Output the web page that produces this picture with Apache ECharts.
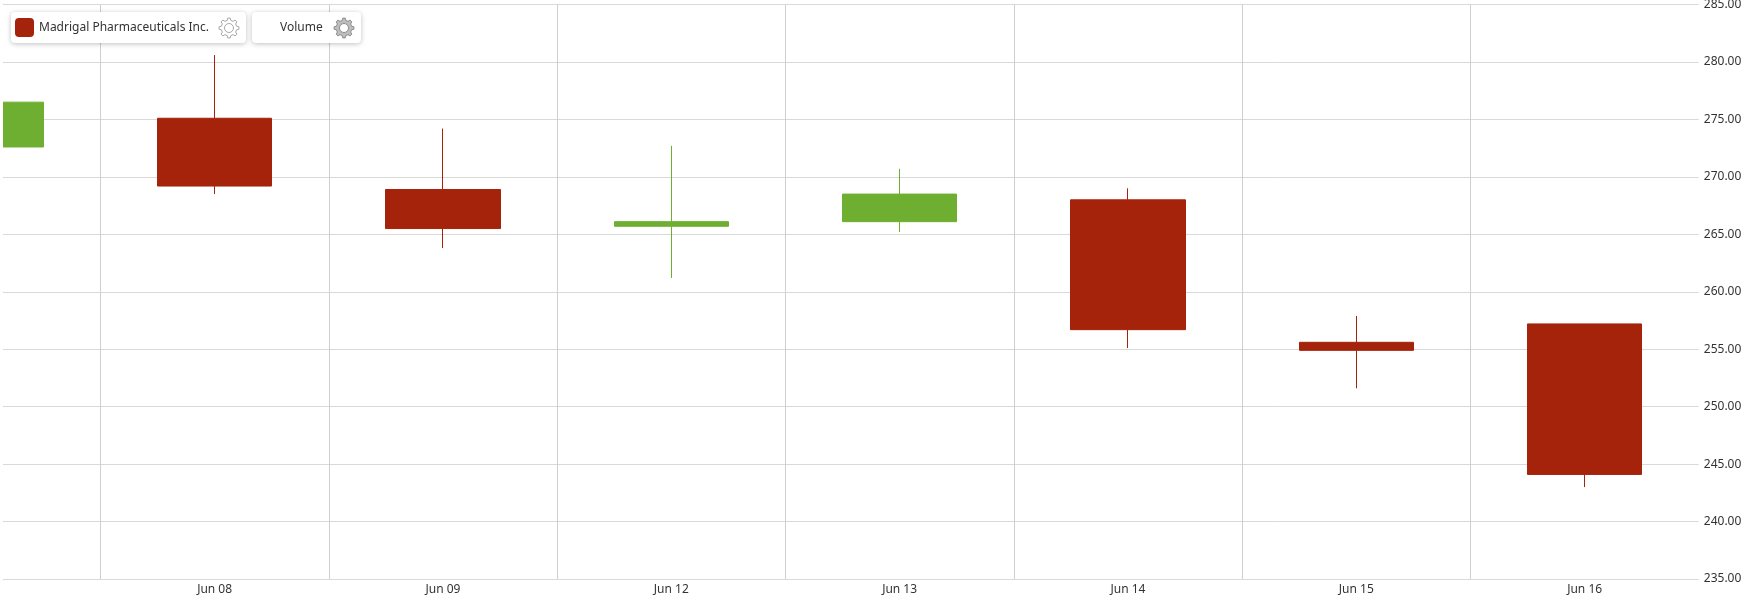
<!DOCTYPE html>
<html>
<head>
<meta charset="utf-8">
<title>Madrigal Pharmaceuticals Inc.</title>
<script src="https://cdn.jsdelivr.net/npm/echarts@6/dist/echarts.min.js"></script>
<style>
    html, body { margin: 0; padding: 0; background: #fff; }
    #chart { width: 1757px; height: 615px; }
</style>
</head>
<body>
<div id="chart"></div>
<script>
// first category is the cut off candle on the left edge, it has no label
const dates = ['', 'Jun 08', 'Jun 09', 'Jun 12', 'Jun 13', 'Jun 14', 'Jun 15', 'Jun 16'];
const open = [272.6, 275.1, 268.9, 265.7, 266.1, 268.0, 255.6, 257.2];
const close = [276.5, 269.2, 265.5, 266.1, 268.5, 256.7, 254.9, 244.1];
const low = [272.6, 268.5, 263.8, 261.2, 265.2, 255.1, 251.6, 243.0];
const high = [276.5, 280.6, 274.2, 272.7, 270.7, 269.0, 257.9, 257.2];

const seriesName = 'Madrigal Pharmaceuticals Inc.';
const volumeName = 'Volume';

const RED = '#a4230a';
const GREEN = '#6eaf31';
const FONT = '"Noto Sans", sans-serif';

const candles = dates.map((d, i) => [open[i], close[i], low[i], high[i]]);

// cog wheel outline for the legend chips
const gearPoints = (cx, cy, teeth) => {
    const points = [];
    const step = Math.PI * 2 / teeth;
    for (let i = 0; i < teeth; i++) {
        const a = i * step;
        [[a - step * 0.30, 7.8], [a - step * 0.16, 10], [a + step * 0.16, 10], [a + step * 0.30, 7.8]].forEach((p) => {
            points.push([cx + p[1] * Math.cos(p[0]), cy + p[1] * Math.sin(p[0])]);
        });
    }
    return points;
};

const chip = (x, width) => ({
    type: 'rect',
    z: 100,
    shape: { x: x, y: 12, width: width, height: 31, r: 4 },
    style: { fill: '#fff', shadowBlur: 5, shadowColor: 'rgba(0,0,0,0.25)', shadowOffsetY: 1 }
});

const gear = (cx, fill, stroke) => ([
    {
        type: 'polygon',
        z: 101,
        shape: { points: gearPoints(cx, 28, 8) },
        style: { fill: fill, stroke: stroke, lineWidth: 1 }
    },
    {
        type: 'circle',
        z: 102,
        shape: { cx: cx, cy: 28, r: 4.5 },
        style: { fill: '#fff', stroke: stroke, lineWidth: 1 }
    }
]);

const chipText = (x, text) => ({
    type: 'text',
    z: 101,
    x: x,
    y: 28,
    style: { text: text, font: '12px ' + FONT, fill: '#333', verticalAlign: 'middle' }
});

const myChart = echarts.init(document.getElementById('chart'));

myChart.setOption({
    animation: false,
    backgroundColor: '#fff',
    // grid runs off the left of the page so the first candle gets cut
    grid: { left: -127.9, top: 4.5, width: 1826.7, height: 574.5, outerBoundsMode: 'none' },
    xAxis: {
        type: 'category',
        data: dates,
        axisLine: { show: false },
        axisTick: { show: false },
        axisLabel: { interval: 0, color: '#333', fontSize: 12, fontFamily: FONT, margin: 5 },
        splitLine: { show: true, showMaxLine: false, lineStyle: { color: '#cfcfcf', width: 1 } }
    },
    yAxis: {
        type: 'value',
        position: 'right',
        min: 235,
        max: 285,
        interval: 5,
        axisLine: { show: false },
        axisTick: { show: false },
        axisLabel: {
            color: '#333',
            fontSize: 12,
            fontFamily: FONT,
            margin: 5,
            padding: [2, 0, 0, 0],
            formatter: (v) => v.toFixed(2)
        },
        splitLine: { show: true, lineStyle: { color: '#d9d9d9', width: 1 } }
    },
    series: [
        {
            name: seriesName,
            type: 'candlestick',
            barWidth: 115,
            itemStyle: {
                color: GREEN,
                color0: RED,
                borderColor: GREEN,
                borderColor0: RED,
                borderWidth: 1
            },
            data: candles
        }
    ],
    graphic: [
        // plot starts a few pixels in from the page edge
        {
            type: 'rect',
            z: 90,
            shape: { x: 0, y: 0, width: 3, height: 615 },
            style: { fill: '#fff' }
        },
        chip(11, 235),
        {
            type: 'rect',
            z: 101,
            shape: { x: 15, y: 18, width: 19, height: 19, r: 4 },
            style: { fill: RED }
        },
        chipText(39, seriesName),
        ...gear(229, '#fff', '#a8a8a8'),
        chip(252, 109),
        chipText(280, volumeName),
        ...gear(344, '#bdbdbd', '#8f8f8f')
    ]
});
</script>
</body>
</html>
